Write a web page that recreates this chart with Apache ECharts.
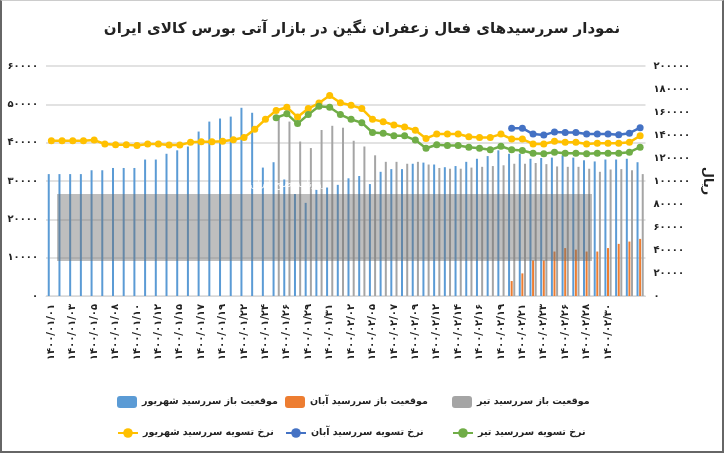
<!DOCTYPE html>
<html><head><meta charset="utf-8">
<script src="https://cdn.jsdelivr.net/npm/echarts@6/dist/echarts.min.js"></script>
<style>html,body{margin:0;padding:0;background:#fff}#c{width:724px;height:453px;box-sizing:border-box;border:2px solid #666;border-top:1px solid #ccc}</style>
</head><body><div id="c"></div>
<script>
const categories=['1400/01/01','1400/01/02','1400/01/03','1400/01/04','1400/01/05','1400/01/07','1400/01/08','1400/01/09','1400/01/10','1400/01/11','1400/01/12','1400/01/14','1400/01/15','1400/01/16','1400/01/17','1400/01/18','1400/01/19','1400/01/21','1400/01/22','1400/01/23','1400/01/24','1400/01/25','1400/01/26','1400/01/28','1400/01/29','1400/01/30','1400/01/31','1400/02/01','1400/02/02','1400/02/04','1400/02/05','1400/02/06','1400/02/07','1400/02/08','1400/02/09','1400/02/11','1400/02/12','1400/02/13','1400/02/14','1400/02/15','1400/02/16','1400/02/18','1400/02/19','1400/02/20','1400/02/21','1400/02/22','1400/02/23','1400/02/25','1400/02/26','1400/02/27','1400/02/28','1400/02/29','1400/02/30','1400/02/31','1400/03/01','1400/03/02'];
const N=null;
const oiShahrivar=[31800,31800,31800,31800,32800,32800,33400,33400,33400,35600,35600,37100,38000,39000,42900,45500,46300,46800,49100,47800,33500,34900,30400,26600,24300,27700,28300,29000,30700,31300,29200,32400,33100,33100,34500,34800,34300,33600,33900,35000,35800,36500,38000,37100,37100,35800,36000,36100,36700,36100,35400,35100,35600,35600,35800,34900];
const oiAban=[N,N,N,N,N,N,N,N,N,N,N,N,N,N,N,N,N,N,N,N,N,N,N,N,N,N,N,N,N,N,N,N,N,N,N,N,N,N,N,N,N,N,N,3900,5900,9300,9300,11600,12500,12100,11600,11600,12500,13600,14200,14900];
const oiTir=[N,N,N,N,N,N,N,N,N,N,N,N,N,N,N,N,N,N,N,N,N,46900,45500,40300,38600,43300,44400,43900,40500,39000,36700,35000,35000,34500,35000,34300,33400,33200,33200,33500,33700,33900,34100,34500,34500,34700,34400,33800,33700,33700,33200,32400,33000,33100,32800,31800];
const priceShahrivar=[135000,135000,135000,135000,135600,132200,131600,131600,130800,132200,132200,131300,131300,133600,134200,134200,134500,135900,137900,145000,153600,161300,164100,155600,163000,167800,174400,168000,165800,163000,153600,151600,148700,147000,144200,137000,140800,140800,140800,138500,137900,137900,140800,136500,136500,132200,132200,134500,133600,133600,132200,132800,132800,132800,133600,139300];
const priceAban=[N,N,N,N,N,N,N,N,N,N,N,N,N,N,N,N,N,N,N,N,N,N,N,N,N,N,N,N,N,N,N,N,N,N,N,N,N,N,N,N,N,N,N,145900,145900,140800,139900,142700,142200,142200,140800,140800,140800,140200,141600,146400];
const priceTir=[N,N,N,N,N,N,N,N,N,N,N,N,N,N,N,N,N,N,N,N,N,155000,158400,149900,157800,165000,164100,157800,153600,150700,142200,141600,139300,139300,135600,128500,131500,130800,130800,129400,128500,127100,130200,127100,126500,124200,123700,125100,124200,124200,123700,124200,124200,124200,125100,129400];
const leftTicks=[0,10000,20000,30000,40000,50000,60000];
const rightTicks=[0,20000,40000,60000,80000,100000,120000,140000,160000,180000,200000];
const fa=s=>String(s).replace(/\d/g,d=>'۰۱۲۳۴۵۶۷۸۹'[d]);
const F='DejaVu Sans';
const names=['موقعیت باز سررسید شهریور','موقعیت باز سررسید آبان','موقعیت باز سررسید تیر','نرخ تسویه سررسید شهریور','نرخ تسویه سررسید آبان','نرخ تسویه سررسید تیر'];
const chart=echarts.init(document.getElementById('c'));
const bar=(n,d,c)=>({name:n,type:'bar',data:d,yAxisIndex:0,barWidth:2,barGap:'30%',itemStyle:{color:c}});
const line=(n,d,c)=>({name:n,type:'line',data:d,yAxisIndex:1,symbol:'circle',symbolSize:7,lineStyle:{width:2.5,color:c},itemStyle:{color:c},z:5});
const lg=(n,l,t)=>({data:[n],left:l,top:t,itemWidth:20,itemHeight:12,itemGap:4,textStyle:{fontFamily:F,fontWeight:'bold',fontSize:9.5,color:'#222'}});
chart.setOption({
 animation:false,
 title:{text:'نمودار سررسیدهای فعال زعفران نگین در بازار آتی بورس کالای ایران',left:'center',top:16,textStyle:{fontFamily:F,fontSize:15,fontWeight:'bold',color:'#222'}},
 legend:[lg(names[0],110,390),lg(names[1],278,390),lg(names[2],445,390),lg(names[3],110,422),lg(names[4],278,422),lg(names[5],445,422)],
 grid:{left:44,right:73,top:65,bottom:155},
 xAxis:{type:'category',data:categories,axisTick:{show:false},axisLine:{lineStyle:{color:'#d9d9d9'}},
   axisLabel:{rotate:90,fontFamily:F,fontSize:10,fontWeight:'bold',color:'#222',margin:8,interval:(i)=>i%2===0&&i<=52,formatter:v=>fa(v)}},
 yAxis:[
  {type:'value',min:leftTicks[0],max:leftTicks[leftTicks.length-1],interval:10000,axisLabel:{fontFamily:F,fontSize:10,fontWeight:'bold',color:'#222',formatter:v=>fa(v)},splitLine:{lineStyle:{color:'#d9d9d9',width:1.5}},axisLine:{show:false}},
  {type:'value',min:rightTicks[0],max:rightTicks[rightTicks.length-1],interval:20000,name:'ریال',nameLocation:'middle',nameRotate:-90,nameGap:52,nameTextStyle:{fontFamily:F,fontSize:13,fontWeight:'bold',color:'#222'},axisLabel:{fontFamily:F,fontSize:10,fontWeight:'bold',color:'#222',formatter:v=>fa(v)},splitLine:{show:false},axisLine:{show:false}}
 ],
 graphic:[{type:'rect',shape:{x:55,y:193,width:535,height:67},style:{fill:'rgba(110,110,110,0.45)'},z:10,silent:true},
          {type:'text',left:248,top:178,style:{text:'روزنامه صبح ایران',fill:'rgba(255,255,255,0.85)',font:'10px DejaVu Sans'},z:11,silent:true}],
 series:[bar(names[0],oiShahrivar,'#5B9BD5'),bar(names[1],oiAban,'#ED7D31'),bar(names[2],oiTir,'#A5A5A5'),
   line(names[3],priceShahrivar,'#FFC000'),line(names[4],priceAban,'#4472C4'),line(names[5],priceTir,'#70AD47')]
});
</script></body></html>
